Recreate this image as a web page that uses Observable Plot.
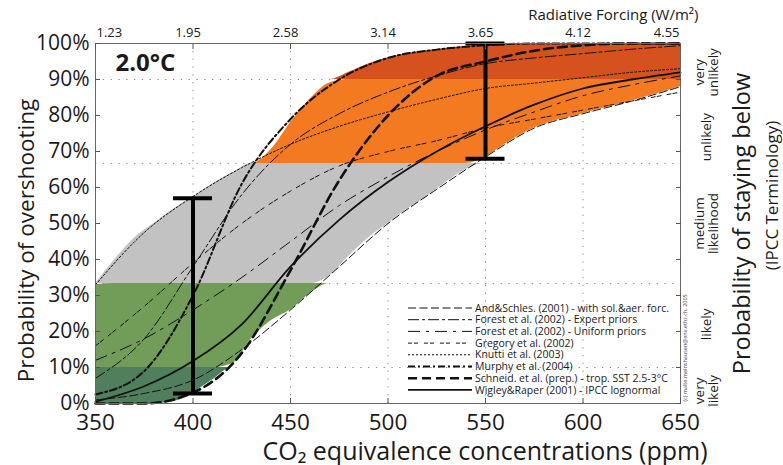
<!DOCTYPE html>
<html><head><meta charset="utf-8">
<script src="https://cdn.jsdelivr.net/npm/d3@7"></script>
<script src="https://cdn.jsdelivr.net/npm/@observablehq/plot@0.6"></script>
<style>
body{margin:0;background:#fff;}
#chart{width:783px;height:465px;}
</style></head><body><div id="chart"></div>
<script>
// ---- data ----
const concentration = [350,375,400,425,450,475,500,525,550,575,600,625,650];
const andSchles     = [1,2.8,6.5,15,26,38,50,59.5,68.5,76.5,80.5,84,88];
const forestExpert  = [7,18,38,58,72,80.5,86.5,91,94.4,96,97.2,98.4,99.4];
const forestUniform = [12,18,26,35,45,55,63,70,76,81,85.5,88.5,91];
const gregory       = [16,27,39,50,59,66,70,73,76.5,79,81.5,84,86.5];
const knutti        = [33,47.5,57.5,65.5,72,77,81,84.5,87.5,89,90.5,92,93];
const murphy        = [2.5,9,30,61,79,90,96,98.3,99.5,100,100,100,100];
const schneider     = [0,0,3,14,37,62,80,91,95,98,99.5,100,100];
const wigley        = [0.5,4.8,11.8,22,38,51,61.5,70,77,83,87.5,90,92];

const seriesNames = [
  "And&Schles. (2001) - with sol.&aer. forc.",
  "Forest et al. (2002) - Expert priors",
  "Forest et al. (2002) - Uniform priors",
  "Gregory et al. (2002)",
  "Knutti et al. (2003)",
  "Murphy et al. (2004)",
  "Schneid. et al. (prep.) - trop. SST 2.5-3°C",
  "Wigley&Raper (2001) - IPCC lognormal"
];
const seriesValues = [andSchles, forestExpert, forestUniform, gregory, knutti, murphy, schneider, wigley];

// envelope of all model curves
const envConc  = [350,360,370,380,390,400,410,420,430,440,450,460,470,480,490,500,510,520,530,540,550,560,575,600,625,650];
const envUpper = [33,40,46,50,54,57.3,61,64,66.7,70.5,78,84.5,89,92,94.3,96,97.2,98,98.7,99.2,99.5,99.7,99.9,100,100,100];
const envLower = [0,0,0,0,0.5,3,6.5,11,18,23,26,30.5,35.5,41,46,50,54,57.5,61.5,65,68.5,72,76.5,80.5,84,88];

// IPCC likelihood bands (%)
const bandLow    = [0,10,33.3,66.7,90];
const bandHigh   = [10,33.3,66.7,90,100];
const bandLabels = ["very\nlikely","likely","medium\nlikelihood","unlikely","very\nunlikely"];
const bandLabelAt = [3.5,22,50,74,92];

// uncertainty bars
const errConc = [400,550];
const errLow  = [2.8,68];
const errHigh = [57,100];

// axes
const xTicks = [350,400,450,500,550,600,650];
const forcingLabels = ["1.23","1.95","2.58","3.14","3.65","4.12","4.55"];
const yTicks = [0,10,20,30,40,50,60,70,80,90,100];

// ---- styles ----
const bandColors = ["#4f7f5d","#729d58","#c2c2c2","#f47a21","#d5521f"];
const lineDash  = ["8,3.5","11,3,3,3","12,6,3,6","4,2,4,6","2,2","7,3,2,3","9,5",null];
const lineWidth = [1,1,1,1,1,2,2.6,1.8];
const font = "'Open Sans', sans-serif";

// ---- build tables ----
const env = envConc.map((c,i) => ({c, lo: envLower[i], hi: envUpper[i]}));
const bands = bandLow.map((lo,i) => ({lo, hi: bandHigh[i], label: bandLabels[i], at: bandLabelAt[i], color: bandColors[i]}));
const errs = errConc.map((c,i) => ({c, lo: errLow[i], hi: errHigh[i]}));
const clamp = (v,a,b) => Math.max(a, Math.min(b, v));
const forcingFmt = d => forcingLabels[xTicks.indexOf(d)];

const marks = [];
marks.push(Plot.ruleX([400,450,500,550,600], {stroke:"#8a8a8a", strokeDasharray:"1.3,6.5"}));
marks.push(Plot.ruleY([10,33.3,66.7,90], {stroke:"#8a8a8a", strokeDasharray:"1.3,6.5"}));
bands.forEach(b => {
  marks.push(Plot.areaY(env, {x:"c", y1: d => clamp(d.lo,b.lo,b.hi), y2: d => clamp(d.hi,b.lo,b.hi),
    fill: b.color, curve:"monotone-x"}));
});
seriesValues.forEach((vals,k) => {
  const rows = concentration.map((c,i) => ({c, p: vals[i]}));
  marks.push(Plot.line(rows, {x:"c", y:"p", stroke:"#111", strokeWidth: lineWidth[k],
    strokeDasharray: lineDash[k] || undefined, curve:"monotone-x"}));
});
marks.push(Plot.ruleX(errs, {x:"c", y1:"lo", y2:"hi", stroke:"#000", strokeWidth:4}));
marks.push(Plot.ruleY(errs, {y:"lo", x1: d => d.c - 10, x2: d => d.c + 10, stroke:"#000", strokeWidth:4}));
marks.push(Plot.ruleY(errs, {y:"hi", x1: d => d.c - 10, x2: d => d.c + 10, stroke:"#000", strokeWidth:4}));
marks.push(Plot.frame({stroke:"#666"}));

// inward ticks
marks.push(Plot.axisX({anchor:"bottom", ticks:xTicks, tickSize:5, dy:-5, tickFormat:()=>"", label:null, stroke:"#555"}));
marks.push(Plot.axisX({anchor:"top", ticks:xTicks, tickSize:5, dy:5, tickFormat:()=>"", label:null, stroke:"#555"}));
marks.push(Plot.axisY({anchor:"left", ticks:yTicks, tickSize:5, dx:5, tickFormat:()=>"", label:null, stroke:"#555"}));
marks.push(Plot.axisY({anchor:"right", ticks:yTicks, tickSize:5, dx:-5, tickFormat:()=>"", label:null, stroke:"#555"}));
// labels
marks.push(Plot.axisX({anchor:"bottom", ticks:xTicks, tickSize:0, tickPadding:11, fontSize:22.5, label:null, tickFormat: d => String(d)}));
marks.push(Plot.axisX({anchor:"top", ticks:xTicks.slice(0,1), tickSize:0, tickPadding:7, fontSize:13, label:null, textAnchor:"start", dx:1, tickFormat: forcingFmt}));
marks.push(Plot.axisX({anchor:"top", ticks:xTicks.slice(1,-1), tickSize:0, tickPadding:7, fontSize:13, label:null, dx:-5, tickFormat: forcingFmt}));
marks.push(Plot.axisX({anchor:"top", ticks:xTicks.slice(-1), tickSize:0, tickPadding:7, fontSize:13, label:null, textAnchor:"end", dx:-1, tickFormat: forcingFmt}));
marks.push(Plot.axisY({anchor:"left", ticks:yTicks, tickSize:0, tickPadding:6, fontSize:21, label:null, tickFormat: d => d + "%"}));

marks.push(Plot.text(["2.0°C"], {frameAnchor:"top-left", dx:20, dy:10, fontSize:24, fontWeight:"bold", textAnchor:"start", lineAnchor:"top"}));
marks.push(Plot.text(["Radiative Forcing (W/m²)"], {frameAnchor:"top-right", dx:18, dy:-24, textAnchor:"end", lineAnchor:"bottom", fontSize:15}));
marks.push(Plot.text(["Probability of overshooting"], {frameAnchor:"left", dx:-69, dy:17, rotate:-90, textAnchor:"middle", lineAnchor:"middle", fontSize:22.5}));
marks.push(Plot.text(["CO₂ equivalence concentrations (ppm)"], {frameAnchor:"bottom", dx:97, dy:48, textAnchor:"middle", lineAnchor:"middle", fontSize:25}));
marks.push(Plot.text(bands, {y:"at", text:"label", frameAnchor:"right", dx:26, rotate:-90, textAnchor:"middle", lineAnchor:"middle", fontSize:13.5, lineHeight:1.05}));
marks.push(Plot.text(["Probability of staying below"], {frameAnchor:"right", dx:62, dy:0, rotate:-90, textAnchor:"middle", lineAnchor:"middle", fontSize:23.5}));
marks.push(Plot.text(["(IPCC Terminology)"], {frameAnchor:"right", dx:92, dy:-28, rotate:-90, textAnchor:"middle", lineAnchor:"middle", fontSize:17}));
marks.push(Plot.text(["(c) malte.meinshausen@env.ethz.ch, 2005"], {frameAnchor:"bottom-right", dx:6, dy:-2, rotate:-90, textAnchor:"start", fontSize:5.5, fill:"#444"}));

const plot = Plot.plot({
  width: 783, height: 465,
  marginLeft: 95, marginRight: 103, marginTop: 43, marginBottom: 62,
  x: {domain:[350,650]},
  y: {domain:[0,100]},
  style: {fontFamily: font, color:"#1a1a1a", background:"#fff"},
  marks
});
document.getElementById("chart").appendChild(plot);

// legend (built from the series arrays)
const svg = d3.select(plot.tagName.toLowerCase() === "svg" ? plot : plot.querySelector("svg"));
const lg = svg.append("g").attr("transform","translate(408,308)");
seriesNames.forEach((name,k) => {
  const row = lg.append("g").attr("transform", `translate(0,${k*11.7})`);
  row.append("line").attr("x1",0).attr("x2",64).attr("y1",0).attr("y2",0)
    .attr("stroke","#111").attr("stroke-width", lineWidth[k])
    .attr("stroke-dasharray", lineDash[k]);
  row.append("text").attr("x",67).attr("y",3.6).attr("font-size",10.5)
    .attr("text-anchor","start")
    .attr("font-family",font).attr("fill","#1a1a1a").text(name);
});
</script></body></html>
